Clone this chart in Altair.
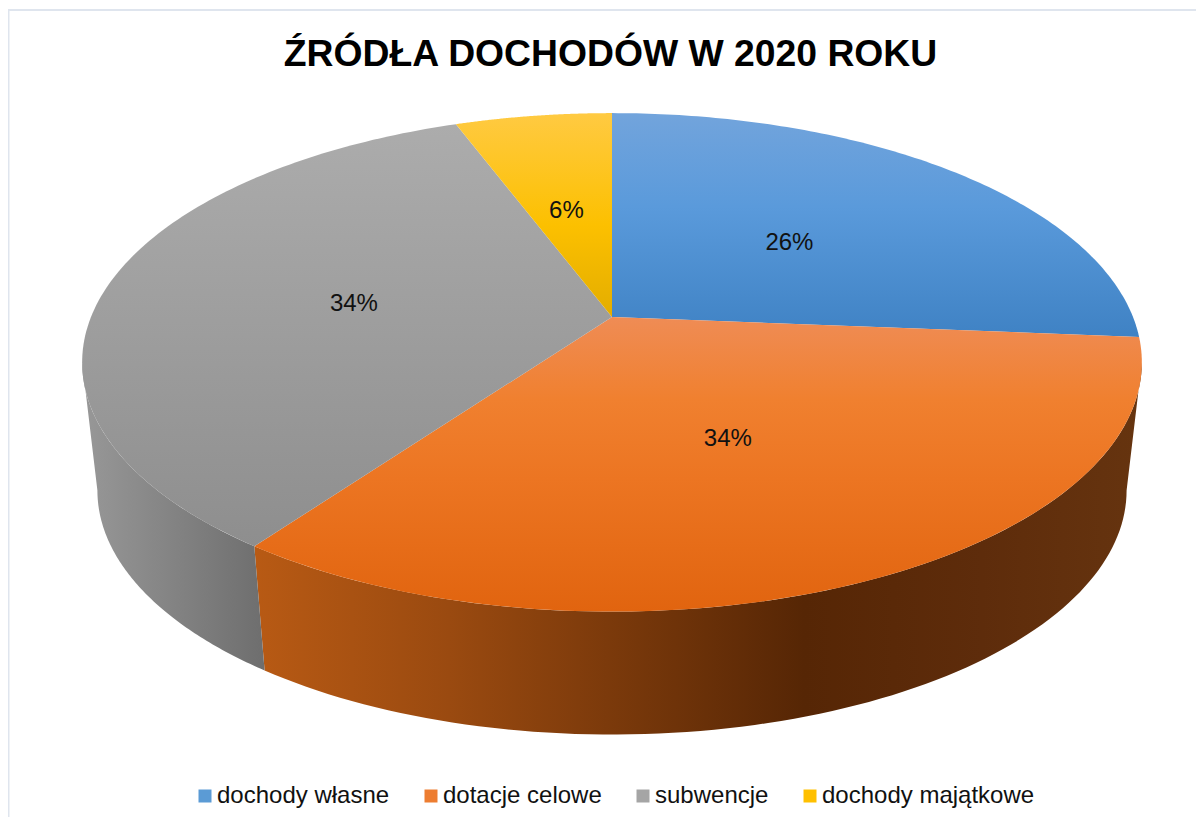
import math
import numpy as np
import pandas as pd
import altair as alt

categories = ["dochody własne", "dotacje celowe", "subwencje", "dochody majątkowe"]
shares = [26.3, 33.65, 34.35, 5.7]
labels = ["26%", "34%", "34%", "6%"]
legend_colors = ["#5b9bd5", "#ed7d31", "#a5a5a5", "#ffc000"]
top_stops = [
    [(0, "#72a4dc"), (0.42, "#5a9adb"), (1, "#3f82c4")],
    [(0, "#ef8c55"), (0.28, "#f0802f"), (0.55, "#ec7522"), (1, "#e1640f")],
    [(0, "#acacac"), (1, "#8e8e8e")],
    [(0, "#ffca42"), (0.55, "#fcc000"), (1, "#e3ad00")],
]
title_text = "ŹRÓDŁA DOCHODÓW W 2020 ROKU"

# perspective model of the pie disc (screen units)
CX, CY, A, B, K = 612, 317, 521, 241, 0.182
CX2, CY2, A2, B2 = 612, 446, 506, 236
SIL = math.degrees(math.acos(-K))


def top_pt(deg, r=1.0):
    t = math.radians(deg)
    w = 1 + K * r * math.cos(t)
    return CX + A * r * math.sin(t) / w, CY - B * r * math.cos(t) / w


def low_pt(deg):
    t = math.radians(deg)
    w = 1 + K * math.cos(t)
    return CX2 + A2 * math.sin(t) / w, CY2 - B2 * math.cos(t) / w


def shape_df(pts):
    return pd.DataFrame({"x": [p[0] for p in pts], "y": [p[1] for p in pts], "i": range(len(pts))})


X = alt.X("x:Q", scale=alt.Scale(domain=[8, 1196], nice=False, zero=False), axis=None)
Y = alt.Y("y:Q", scale=alt.Scale(domain=[817, 8], nice=False, zero=False), axis=None)


def grad(stops, x2=0, y2=1):
    return alt.Gradient(
        gradient="linear", x1=0, y1=0, x2=x2, y2=y2,
        stops=[alt.GradientStop(color=c, offset=o) for o, c in stops],
    )


def poly(pts, fill):
    return alt.Chart(shape_df(pts)).mark_line(fill=fill, strokeWidth=0, strokeOpacity=0, interpolate="linear").encode(
        x=X, y=Y, order="i:Q"
    )


cum = np.cumsum([0] + shares) * 3.6
starts, ends = cum[:-1], cum[1:]


def wall(a, b):
    degs = np.linspace(a, b, 90)
    return [top_pt(d) for d in degs] + [low_pt(d) for d in degs[::-1]]


layers = []
split = ends[1]
layers.append(poly(wall(SIL, split), grad(
    [(0, "#b85a14"), (0.22, "#9a4a10"), (0.62, "#562605"), (0.82, "#5e2c0b"), (1, "#66340f")], x2=1, y2=0)))
layers.append(poly(wall(split, 360 - SIL), grad([(0, "#989898"), (1, "#6e6e6e")], x2=1, y2=0)))

for s, e, st in zip(starts, ends, top_stops):
    degs = np.linspace(s, e, 120)
    pts = [(CX, CY)] + [top_pt(d) for d in degs] + [(CX, CY)]
    layers.append(poly(pts, grad(st)))

mid = (starts + ends) / 2
lab = pd.DataFrame({"x": [top_pt(m, 0.5)[0] for m in mid], "y": [top_pt(m, 0.5)[1] for m in mid], "t": labels})
layers.append(alt.Chart(lab).mark_text(font="Liberation Sans", fontSize=24, color="#111111", dx=-3, dy=3).encode(x=X, y=Y, text="t:N"))

frame_v = pd.DataFrame({"x": [8.5], "y": [10], "y2": [817]})
frame_h = pd.DataFrame({"x": [8], "x2": [1196], "y": [10]})
layers.append(alt.Chart(frame_v).mark_rule(color="#dfe5ee", strokeWidth=2).encode(x=X, y=Y, y2="y2:Q"))
layers.append(alt.Chart(frame_h).mark_rule(color="#dfe5ee", strokeWidth=2).encode(x=X, y=Y, x2="x2:Q"))

leg = pd.DataFrame({"k": categories, "x": [600] * 4, "y": [400] * 4})
layers.append(alt.Chart(leg).mark_square(size=0, opacity=1).encode(
    x=X, y=Y,
    color=alt.Color("k:N", scale=alt.Scale(domain=categories, range=legend_colors), legend=alt.Legend(
        title=None, orient="none", legendX=185, legendY=776, direction="horizontal", columns=4,
        symbolType="square", symbolSize=169, symbolStrokeWidth=0, symbolOpacity=1,
        labelFont="Liberation Sans", labelFontSize=24, labelColor="#111111", labelOffset=0,
        labelLimit=400, columnPadding=29,
    )),
))

chart = alt.layer(*layers).properties(
    width=1188, height=809, padding=0,
    autosize=alt.AutoSizeParams(type="none"),
    background="white",
    title=alt.TitleParams(title_text, font="Liberation Sans", fontSize=37.3, fontWeight="bold", color="#000000",
                          anchor="middle", offset=-66, dx=8.5),
).configure_view(stroke=None)

chart.save("out.html", embed_options={"renderer": "svg", "actions": False})
